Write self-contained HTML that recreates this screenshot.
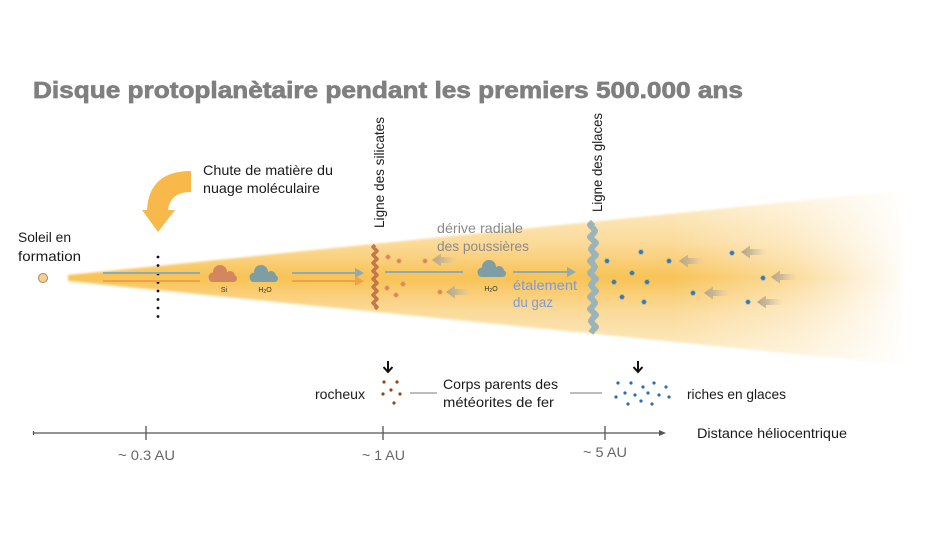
<!DOCTYPE html>
<html><head><meta charset="utf-8"><style>
html,body{margin:0;padding:0;background:#fff;}
svg{display:block;}
text{font-family:"Liberation Sans",sans-serif;}
</style></head><body>
<svg width="948" height="535" viewBox="0 0 948 535" xmlns="http://www.w3.org/2000/svg">
<defs>
  <linearGradient id="vg" gradientUnits="userSpaceOnUse" x1="0" y1="190" x2="0" y2="365">
    <stop offset="0" stop-color="#fdefd0"/>
    <stop offset="0.3" stop-color="#fbdb9b"/>
    <stop offset="0.5" stop-color="#f8c356"/>
    <stop offset="0.7" stop-color="#fbdb9b"/>
    <stop offset="1" stop-color="#fdefd0"/>
  </linearGradient>
  <linearGradient id="hg" gradientUnits="userSpaceOnUse" x1="60" y1="0" x2="910" y2="0">
    <stop offset="0" stop-color="#fff" stop-opacity="1"/>
    <stop offset="0.72" stop-color="#fff" stop-opacity="1"/>
    <stop offset="0.86" stop-color="#fff" stop-opacity="0.6"/>
    <stop offset="1" stop-color="#fff" stop-opacity="0"/>
  </linearGradient>
  <mask id="dm"><rect x="0" y="0" width="948" height="535" fill="url(#hg)"/></mask>
  <linearGradient id="ag" x1="0" y1="0" x2="1" y2="0">
    <stop offset="0" stop-color="#b3a384" stop-opacity="0.95"/>
    <stop offset="0.4" stop-color="#bfb095" stop-opacity="0.8"/>
    <stop offset="1" stop-color="#d8ccb5" stop-opacity="0"/>
  </linearGradient>
  <filter id="bl" x="-5%" y="-10%" width="110%" height="120%"><feGaussianBlur stdDeviation="1"/></filter>
  <g id="la"><polygon points="0,0 9,-6.5 9,-3 26,-3 26,3 9,3 9,6.5" fill="url(#ag)"/></g>
  <g id="oa" stroke="#d9845e" stroke-width="1.2" fill="#d9845e">
    <line x1="-2.6" y1="0" x2="2.6" y2="0"/><line x1="-1.3" y1="-2.3" x2="1.3" y2="2.3"/><line x1="-1.3" y1="2.3" x2="1.3" y2="-2.3"/><circle r="1.1"/>
  </g>
  <g id="ba" stroke="#2b7bbf" stroke-width="1.2" fill="#2b7bbf">
    <line x1="-2.6" y1="0" x2="2.6" y2="0"/><line x1="-1.3" y1="-2.3" x2="1.3" y2="2.3"/><line x1="-1.3" y1="2.3" x2="1.3" y2="-2.3"/><circle r="1.3"/>
  </g>
</defs>

<!-- Title -->
<text x="33" y="98" font-size="23" font-weight="bold" fill="#7f7f7f" stroke="#7f7f7f" stroke-width="0.7" textLength="710" lengthAdjust="spacingAndGlyphs">Disque protoplanètaire pendant les premiers 500.000 ans</text>

<!-- Disc -->
<g mask="url(#dm)">
  <polygon points="68,275 905,190 905,365 68,281" fill="url(#vg)" filter="url(#bl)"/>
</g>

<!-- Sun -->
<circle cx="43" cy="278" r="4.5" fill="#fbd08f" stroke="#a08866" stroke-width="1"/>
<text x="18" y="242" font-size="14" fill="#1a1a1a" textLength="53" lengthAdjust="spacingAndGlyphs">Soleil en</text>
<text x="18" y="261" font-size="14" fill="#1a1a1a" textLength="63" lengthAdjust="spacingAndGlyphs">formation</text>

<!-- Curved arrow -->
<path d="M191,171 Q149,171 147,210 L142,210 L158,232 L175,210 L168,210 Q170,192 191,192 Z" fill="#f8b94a"/>
<text x="203" y="175" font-size="14" fill="#1a1a1a" textLength="130" lengthAdjust="spacingAndGlyphs">Chute de matière du</text>
<text x="203" y="193" font-size="14" fill="#1a1a1a" textLength="117" lengthAdjust="spacingAndGlyphs">nuage moléculaire</text>

<!-- dotted line -->
<g fill="#111">
  <circle cx="158" cy="257" r="1.4"/><circle cx="158" cy="265.5" r="1.4"/><circle cx="158" cy="274" r="1.4"/><circle cx="158" cy="282.5" r="1.4"/>
  <circle cx="158" cy="291" r="1.4"/><circle cx="158" cy="299.5" r="1.4"/><circle cx="158" cy="308" r="1.4"/><circle cx="158" cy="316.5" r="1.4"/>
</g>

<!-- left lines -->
<line x1="103" y1="273" x2="200" y2="273" stroke="#8faab0" stroke-width="2"/>
<line x1="103" y1="281" x2="200" y2="281" stroke="#f4a044" stroke-width="2"/>

<!-- clouds -->
<g fill="#d4875e">
  <rect x="209" y="275" width="28" height="7" rx="3.5"/>
  <circle cx="220" cy="272" r="7"/><circle cx="230" cy="276" r="5"/><circle cx="213" cy="277" r="4.5"/>
</g>
<text x="224" y="292" font-size="7" fill="#333" text-anchor="middle">Si</text>
<g fill="#7f9ea4">
  <rect x="250" y="275" width="28" height="7" rx="3.5"/>
  <circle cx="261" cy="272" r="7"/><circle cx="271" cy="276" r="5"/><circle cx="254" cy="277" r="4.5"/>
</g>
<text x="265" y="292" font-size="7" fill="#333" text-anchor="middle">H<tspan font-size="5" dy="1">2</tspan><tspan dy="-1">O</tspan></text>

<!-- left arrows -->
<line x1="292" y1="273" x2="357" y2="273" stroke="#8faab0" stroke-width="2"/>
<polygon points="364,273 355,268 355,278" fill="#8faab0"/>
<line x1="292" y1="281" x2="357" y2="281" stroke="#f4a044" stroke-width="2"/>
<polygon points="364,281 355,276 355,286" fill="#f4a044"/>

<!-- silicate line -->
<path d="M375,245 l-2,2 2,2 2,2 -2,2 -2,2 2,2 2,2 -2,2 -2,2 2,2 2,2 -2,2 -2,2 2,2 2,2 -2,2 -2,2 2,2 2,2 -2,2 -2,2 2,2 2,2 -2,2 -2,2 2,2 2,2 -2,2 -2,2 2,2 2,2 -2,2" fill="none" stroke="#c3784a" stroke-width="3.5" stroke-linejoin="round"/>
<text transform="translate(384,228) rotate(-90)" font-size="14" fill="#1a1a1a" textLength="111" lengthAdjust="spacingAndGlyphs">Ligne des silicates</text>

<!-- orange asterisks -->
<use href="#oa" x="388" y="257"/><use href="#oa" x="399" y="261"/><use href="#oa" x="425" y="261"/>
<use href="#oa" x="403" y="284"/><use href="#oa" x="387" y="288"/><use href="#oa" x="396" y="295"/><use href="#oa" x="440" y="292"/>

<!-- mid -->
<line x1="385" y1="272" x2="463" y2="272" stroke="#8faab0" stroke-width="2"/>
<use href="#la" x="432" y="260"/>
<use href="#la" x="446" y="292"/>
<text x="437" y="233" font-size="14" fill="#8a8a8a" textLength="86" lengthAdjust="spacingAndGlyphs">dérive radiale</text>
<text x="437" y="251" font-size="14" fill="#8a8a8a" textLength="92" lengthAdjust="spacingAndGlyphs">des poussières</text>

<g fill="#7f9ea4">
  <rect x="478" y="270" width="28" height="7" rx="3.5"/>
  <circle cx="489" cy="267" r="7"/><circle cx="499" cy="271" r="5"/><circle cx="482" cy="272" r="4.5"/>
</g>
<text x="491" y="291" font-size="7" fill="#333" text-anchor="middle">H<tspan font-size="5" dy="1">2</tspan><tspan dy="-1">O</tspan></text>

<line x1="513" y1="272" x2="568" y2="272" stroke="#8faab0" stroke-width="2"/>
<polygon points="576,272 567,267 567,277" fill="#8faab0"/>
<text x="513" y="290" font-size="14" fill="#7b9ad6" textLength="64" lengthAdjust="spacingAndGlyphs">étalement</text>
<text x="513" y="307" font-size="14" fill="#7b9ad6" textLength="40" lengthAdjust="spacingAndGlyphs">du gaz</text>

<!-- ice line -->
<path d="M593,222 l-3,3 3,3 2,3 -2,3 -3,3 3,3 3,3 -3,3 -2,3 2,3 3,3 -3,3 -3,3 3,3 2,3 -2,3 -3,3 3,3 3,3 -3,3 -2,3 2,3 3,3 -3,3 -3,3 3,3 2,3 -2,3 -3,3 3,3 3,3 -3,3 -2,3 2,3 3,3 -3,3 -2,3" fill="none" stroke="#9bb4ba" stroke-width="6" stroke-linejoin="round"/>
<text transform="translate(602,212) rotate(-90)" font-size="14" fill="#1a1a1a" textLength="99" lengthAdjust="spacingAndGlyphs">Ligne des glaces</text>

<!-- blue asterisks -->
<use href="#ba" x="607" y="261"/><use href="#ba" x="641" y="252"/><use href="#ba" x="669" y="261"/>
<use href="#ba" x="632" y="273"/><use href="#ba" x="614" y="282"/><use href="#ba" x="647" y="282"/>
<use href="#ba" x="622" y="297"/><use href="#ba" x="644" y="302"/><use href="#ba" x="732" y="253"/>
<use href="#ba" x="763" y="278"/><use href="#ba" x="693" y="293"/><use href="#ba" x="748" y="302"/>

<!-- right arrows -->
<use href="#la" x="679" y="261"/>
<use href="#la" x="741" y="252"/>
<use href="#la" x="771" y="277"/>
<use href="#la" x="704" y="293"/>
<use href="#la" x="757" y="302"/>

<!-- bottom -->
<g stroke="#111" stroke-width="2" fill="none">
  <line x1="388" y1="361" x2="388" y2="371"/><polyline points="383.5,367 388,372 392.5,367"/>
  <line x1="638" y1="361" x2="638" y2="371"/><polyline points="633.5,367 638,372 642.5,367"/>
</g>
<g fill="#8b4a12">
  <circle cx="384" cy="382" r="1.6"/><circle cx="397" cy="382" r="1.6"/><circle cx="391" cy="390" r="1.6"/>
  <circle cx="383" cy="394" r="1.6"/><circle cx="400" cy="394" r="1.6"/><circle cx="394" cy="403" r="1.6"/>
</g>
<text x="315" y="399" font-size="14" fill="#1a1a1a" textLength="50" lengthAdjust="spacingAndGlyphs">rocheux</text>
<line x1="410" y1="393" x2="437" y2="393" stroke="#bdbdbd" stroke-width="2"/>
<text x="443" y="389" font-size="14" fill="#1a1a1a" textLength="115" lengthAdjust="spacingAndGlyphs">Corps parents des</text>
<text x="443" y="407" font-size="14" fill="#1a1a1a" textLength="111" lengthAdjust="spacingAndGlyphs">météorites de fer</text>
<line x1="570" y1="393" x2="602" y2="393" stroke="#bdbdbd" stroke-width="2"/>
<g fill="#2a6fb0">
  <circle cx="618" cy="383" r="1.6"/><circle cx="631" cy="383" r="1.6"/><circle cx="643" cy="387" r="1.6"/>
  <circle cx="654" cy="383" r="1.6"/><circle cx="666" cy="387" r="1.6"/><circle cx="616" cy="397" r="1.6"/>
  <circle cx="625" cy="393" r="1.6"/><circle cx="635" cy="395" r="1.6"/><circle cx="648" cy="393" r="1.6"/>
  <circle cx="659" cy="395" r="1.6"/><circle cx="669" cy="397" r="1.6"/><circle cx="628" cy="404" r="1.6"/>
  <circle cx="641" cy="401" r="1.6"/><circle cx="652" cy="404" r="1.6"/>
</g>
<text x="687" y="399" font-size="14" fill="#1a1a1a" textLength="99" lengthAdjust="spacingAndGlyphs">riches en glaces</text>

<!-- axis -->
<line x1="33" y1="433" x2="660" y2="433" stroke="#555" stroke-width="1.3"/>
<line x1="33.5" y1="431" x2="33.5" y2="435" stroke="#555" stroke-width="1.3"/>
<polygon points="666,433 659,430 659,436" fill="#555"/>
<g stroke="#555" stroke-width="1.3">
  <line x1="146" y1="426" x2="146" y2="440"/>
  <line x1="383" y1="426" x2="383" y2="440"/>
  <line x1="605" y1="426" x2="605" y2="440"/>
</g>
<text x="118" y="460" font-size="14" fill="#666" textLength="57" lengthAdjust="spacingAndGlyphs">~ 0.3 AU</text>
<text x="362" y="460" font-size="14" fill="#666" textLength="43" lengthAdjust="spacingAndGlyphs">~ 1 AU</text>
<text x="583" y="457" font-size="14" fill="#666" textLength="44" lengthAdjust="spacingAndGlyphs">~ 5 AU</text>
<text x="697" y="438" font-size="14" fill="#1a1a1a" textLength="150" lengthAdjust="spacingAndGlyphs">Distance héliocentrique</text>
</svg>
</body></html>
